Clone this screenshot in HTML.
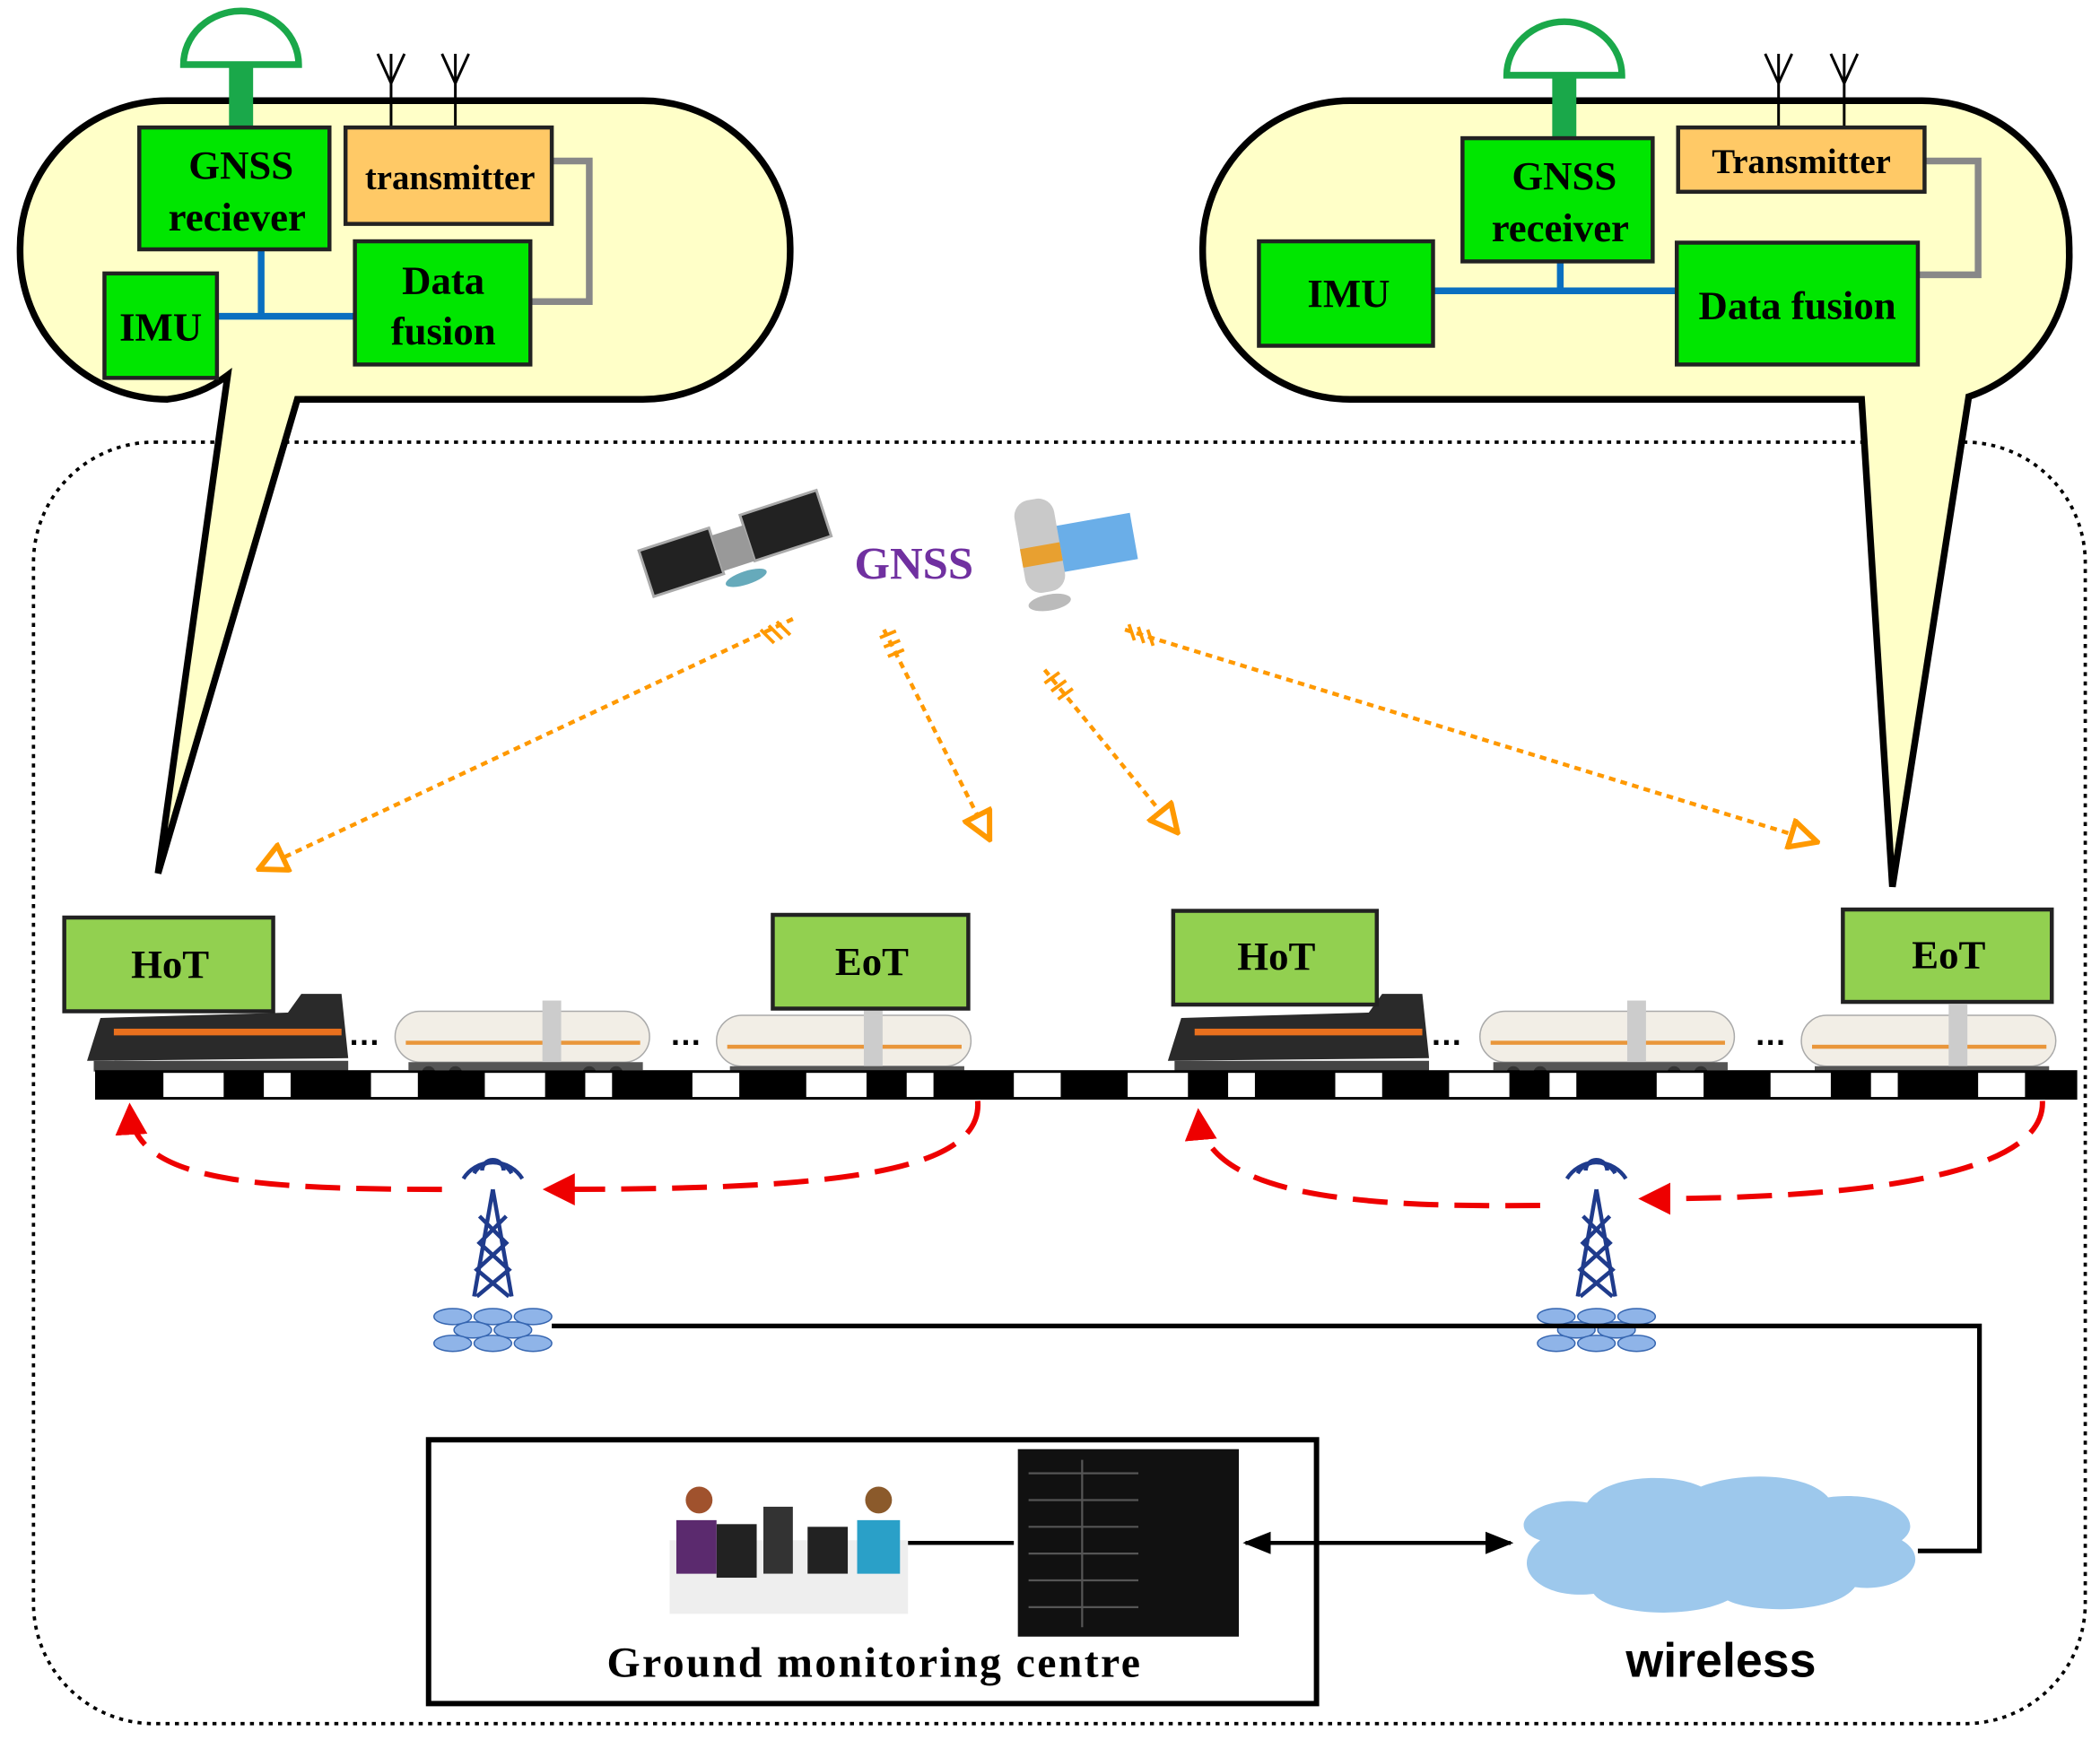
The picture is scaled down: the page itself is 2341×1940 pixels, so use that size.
<!DOCTYPE html>
<html><head><meta charset="utf-8"><style>
html,body{margin:0;padding:0;background:#fff;}
svg{display:block;}
.s{font-family:"Liberation Serif",serif;font-weight:bold;}
</style></head><body>
<svg width="2341" height="1940" viewBox="0 0 1568 1299" xmlns="http://www.w3.org/2000/svg">
<defs>
<marker id="oa" viewBox="0 0 12 12" refX="10" refY="6" markerWidth="8" markerHeight="8" orient="auto"><path d="M1,1 L11,6 L1,11 Z" fill="#fff" stroke="#f90" stroke-width="2"/></marker>
<marker id="ra" viewBox="0 0 10 10" refX="8" refY="5" markerWidth="6" markerHeight="6" orient="auto"><path d="M0,0 L10,5 L0,10 Z" fill="#e00"/></marker>
<marker id="ba" viewBox="0 0 10 10" refX="9" refY="5" markerWidth="7" markerHeight="7" orient="auto"><path d="M0,1 L10,5 L0,9 Z" fill="#000"/></marker>
<marker id="bs" viewBox="0 0 10 10" refX="1" refY="5" markerWidth="7" markerHeight="7" orient="auto"><path d="M10,1 L0,5 L10,9 Z" fill="#000"/></marker>
<g id="tank"><rect x="0" y="8" width="190" height="38" rx="19" fill="#f2eee6" stroke="#aaa"/><rect x="8" y="30" width="175" height="3" fill="#e9963a"/><rect x="110" y="0" width="14" height="46" fill="#ccc"/><rect x="10" y="46" width="175" height="6" fill="#555"/><circle cx="25" cy="54" r="5" fill="#333"/><circle cx="45" cy="54" r="5" fill="#333"/><circle cx="145" cy="54" r="5" fill="#333"/><circle cx="165" cy="54" r="5" fill="#333"/></g>
<g id="loco"><path d="M10,18 L150,14 L160,0 L190,0 L195,48 L0,50 Z" fill="#2a2a2a"/><rect x="20" y="26" width="170" height="5" fill="#e8701e"/><rect x="5" y="50" width="190" height="8" fill="#444"/></g>
<g id="tower"><path d="M0,0 L-14,80 M0,0 L14,80 M-10,20 L10,40 L-12,60 L12,80 M10,20 L-10,40 L12,60 L-12,80" stroke="#1f3b8c" stroke-width="3" fill="none"/><path d="M-14,-12 a16,16 0 0 1 28,0 M-22,-8 a26,26 0 0 1 44,0 M-8,-14 a8,8 0 0 1 16,0" stroke="#1f3b8c" stroke-width="3" fill="none"/><g fill="#8fb4e8" stroke="#3565b0"><ellipse cx="-30" cy="95" rx="14" ry="6"/><ellipse cx="0" cy="95" rx="14" ry="6"/><ellipse cx="30" cy="95" rx="14" ry="6"/><ellipse cx="-15" cy="105" rx="14" ry="6"/><ellipse cx="15" cy="105" rx="14" ry="6"/><ellipse cx="-30" cy="115" rx="14" ry="6"/><ellipse cx="0" cy="115" rx="14" ry="6"/><ellipse cx="30" cy="115" rx="14" ry="6"/></g></g>
</defs>
<rect x="25" y="330" width="1532" height="957" rx="90" fill="none" stroke="#000" stroke-width="2.5" stroke-dasharray="3,4"/>
<!-- left callout -->
<path d="M125,75 H480 A110,110 0 0 1 590,185 V188 A110,110 0 0 1 480,298 H222 L118,652 L170,280 Q150,295 125,298 A110,110 0 0 1 15,188 V185 A110,110 0 0 1 125,75 Z" fill="#ffffc8" stroke="#000" stroke-width="5"/>
<path d="M137,48 a43,40 0 0 1 86,0 Z" fill="#fff" stroke="#1aa84a" stroke-width="5"/>
<rect x="171" y="48" width="18" height="48" fill="#1aa84a"/>
<path d="M292,95 V40 M282,40 L292,62 L302,40 M340,95 V40 M330,40 L340,62 L350,40" stroke="#000" stroke-width="2" fill="none"/>
<path d="M412,120 H440 V225 H396" stroke="#888" stroke-width="5" fill="none"/>
<path d="M195,186 V236 M162,236 H265" stroke="#0a6fc0" stroke-width="5" fill="none"/>
<rect x="104" y="95" width="142" height="91" fill="#00e600" stroke="#222" stroke-width="3"/>
<text class="s" x="180" y="133" font-size="30" text-anchor="middle">GNSS</text><text class="s" x="177" y="172" font-size="30" text-anchor="middle">reciever</text>
<rect x="258" y="95" width="154" height="72" fill="#ffc966" stroke="#222" stroke-width="3"/>
<text class="s" x="336" y="141" font-size="26" text-anchor="middle">transmitter</text>
<rect x="265" y="180" width="131" height="92" fill="#00e600" stroke="#222" stroke-width="3"/>
<text class="s" x="331" y="219" font-size="30" text-anchor="middle">Data</text><text class="s" x="331" y="257" font-size="30" text-anchor="middle">fusion</text>
<rect x="78" y="204" width="84" height="78" fill="#00e600" stroke="#222" stroke-width="3"/>
<text class="s" x="120" y="254" font-size="30" text-anchor="middle">IMU</text>
<!-- right callout -->
<path d="M1008,75 H1435 A110,110 0 0 1 1545,185 V188 A110,110 0 0 1 1470,296 L1413,662 L1390,298 H1008 A110,110 0 0 1 898,188 V185 A110,110 0 0 1 1008,75 Z" fill="#ffffc8" stroke="#000" stroke-width="5"/>
<path d="M1125,56 a43,40 0 0 1 86,0 Z" fill="#fff" stroke="#1aa84a" stroke-width="5"/>
<rect x="1159" y="56" width="18" height="48" fill="#1aa84a"/>
<path d="M1328,95 V40 M1318,40 L1328,62 L1338,40 M1377,95 V40 M1367,40 L1377,62 L1387,40" stroke="#000" stroke-width="2" fill="none"/>
<path d="M1437,120 H1477 V205 H1432" stroke="#888" stroke-width="5" fill="none"/>
<path d="M1165,195 V217 M1070,217 H1252" stroke="#0a6fc0" stroke-width="5" fill="none"/>
<rect x="1092" y="103" width="142" height="92" fill="#00e600" stroke="#222" stroke-width="3"/>
<text class="s" x="1168" y="141" font-size="30" text-anchor="middle">GNSS</text><text class="s" x="1165" y="180" font-size="30" text-anchor="middle">receiver</text>
<rect x="1253" y="95" width="184" height="48" fill="#ffc966" stroke="#222" stroke-width="3"/>
<text class="s" x="1345" y="129" font-size="26" text-anchor="middle">Transmitter</text>
<rect x="940" y="180" width="130" height="78" fill="#00e600" stroke="#222" stroke-width="3"/>
<text class="s" x="1007" y="229" font-size="30" text-anchor="middle">IMU</text>
<rect x="1252" y="181" width="180" height="91" fill="#00e600" stroke="#222" stroke-width="3"/>
<text class="s" x="1342" y="238" font-size="30" text-anchor="middle">Data fusion</text>
<!-- satellites -->
<g transform="translate(545,410) rotate(-18)"><rect x="-65" y="-20" width="55" height="36" fill="#222" stroke="#aaa" stroke-width="2"/><rect x="15" y="-22" width="60" height="36" fill="#222" stroke="#aaa" stroke-width="2"/><rect x="-10" y="-14" width="25" height="28" fill="#999"/><ellipse cx="5" cy="24" rx="16" ry="5" fill="#6ab"/></g>
<g transform="translate(790,410) rotate(-10)"><rect x="0" y="-18" width="58" height="36" fill="#6aaee8" stroke="#fff"/><rect x="-28" y="-40" width="30" height="70" rx="12" fill="#c9c9c9"/><rect x="-28" y="-5" width="30" height="14" fill="#e8a030"/><ellipse cx="-13" cy="38" rx="16" ry="6" fill="#bbb"/></g>
<text class="s" x="638" y="432" font-size="34" fill="#7030a0">GNSS</text>
<!-- orange arrows -->
<g stroke="#f90" stroke-width="3" stroke-dasharray="5,4" fill="none">
<path d="M592,462 L195,648" marker-end="url(#oa)"/>
<path d="M660,470 L738,625" marker-end="url(#oa)"/>
<path d="M780,500 L878,620" marker-end="url(#oa)"/>
<path d="M840,470 L1355,628" marker-end="url(#oa)"/>
</g>
<g stroke="#f90" stroke-width="2.5"><path d="M568,470 l10,10 M574,467 l10,10 M580,464 l10,10 M657,476 l12,-5 M660,483 l12,-5 M663,490 l12,-5 M780,510 l11,-8 M785,516 l11,-8 M790,522 l11,-8 M843,466 l4,12 M850,468 l4,12 M857,470 l4,12"/></g>
<!-- trains -->
<use href="#loco" x="65" y="742"/><use href="#tank" x="295" y="747"/><use href="#tank" x="535" y="750"/>
<use href="#loco" x="872" y="742"/><use href="#tank" x="1105" y="747"/><use href="#tank" x="1345" y="750"/>
<text x="260" y="780" font-size="24" font-weight="bold" font-family="Liberation Sans">…</text><text x="500" y="780" font-size="24" font-weight="bold" font-family="Liberation Sans">…</text>
<text x="1068" y="780" font-size="24" font-weight="bold" font-family="Liberation Sans">…</text><text x="1310" y="780" font-size="24" font-weight="bold" font-family="Liberation Sans">…</text>
<rect x="72" y="800" width="1478" height="20" fill="#fff" stroke="#000" stroke-width="2"/>
<path d="M72,810 H1550" stroke="#000" stroke-width="20" stroke-dasharray="50,45,30,20,60,35"/>
<g fill="#92d050" stroke="#222" stroke-width="3">
<rect x="48" y="685" width="156" height="70"/><rect x="577" y="683" width="146" height="70"/><rect x="876" y="680" width="152" height="70"/><rect x="1376" y="679" width="156" height="69"/></g>
<g class="s" font-size="30" text-anchor="middle"><text x="127" y="730">HoT</text><text x="651" y="728">EoT</text><text x="953" y="724">HoT</text><text x="1455" y="723">EoT</text></g>
<!-- red dashed -->
<g stroke="#e00" stroke-width="4" stroke-dasharray="26,12" fill="none">
<path d="M730,822 C735,880 600,888 410,888" marker-end="url(#ra)"/>
<path d="M330,888 C180,888 100,880 97,828" marker-end="url(#ra)"/>
<path d="M1525,822 C1528,885 1350,895 1228,895" marker-end="url(#ra)"/>
<path d="M1150,900 C1000,902 900,890 895,832" marker-end="url(#ra)"/>
</g>
<use href="#tower" x="368" y="888"/><use href="#tower" x="1192" y="888"/>
<path d="M412,990 H1478 V1158 H1432" stroke="#000" stroke-width="3.5" fill="none"/>
<!-- ground -->
<rect x="320" y="1075" width="663" height="197" fill="none" stroke="#000" stroke-width="4"/>
<rect x="760" y="1082" width="165" height="140" fill="#111"/>
<g stroke="#555" stroke-width="1.5"><path d="M768,1100 H850 M768,1120 H850 M768,1140 H850 M768,1160 H850 M768,1180 H850 M768,1200 H850 M808,1090 V1215"/></g>
<rect x="500" y="1150" width="178" height="55" fill="#eee"/>
<rect x="535" y="1138" width="30" height="40" fill="#222"/><rect x="570" y="1125" width="22" height="50" fill="#333"/><rect x="603" y="1140" width="30" height="35" fill="#222"/>
<circle cx="522" cy="1120" r="10" fill="#a0522d"/><path d="M505,1135 h30 v40 h-30z" fill="#5b2a6e"/>
<circle cx="656" cy="1120" r="10" fill="#8b5a2b"/><path d="M640,1135 h32 v40 h-32z" fill="#2aa0c8"/>
<path d="M678,1152 H757" stroke="#000" stroke-width="3"/>
<path d="M930,1152 H1128" stroke="#000" stroke-width="3" marker-start="url(#bs)" marker-end="url(#ba)"/>
<text class="s" x="653" y="1252" font-size="32" text-anchor="middle" letter-spacing="1.6">Ground monitoring centre</text>
<path d="M1150,1150 C1120,1140 1150,1115 1185,1122 C1200,1100 1250,1100 1270,1110 C1300,1098 1350,1100 1365,1118 C1410,1112 1440,1135 1420,1150 C1445,1165 1420,1190 1385,1185 C1370,1205 1310,1205 1290,1195 C1260,1210 1200,1205 1190,1190 C1150,1195 1125,1170 1150,1150 Z" fill="#9dc8ec"/>
<text x="1285" y="1252" font-size="36" font-weight="bold" font-family="Liberation Sans" text-anchor="middle">wireless</text>
</svg>
</body></html>
